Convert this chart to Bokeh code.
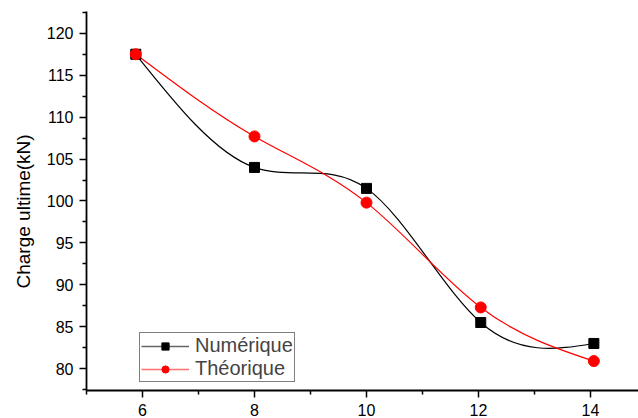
import numpy as np
from bokeh.plotting import figure
from bokeh.models import (Range1d, FixedTicker, Legend, LegendItem, Title,
                          ColumnDataSource)
from bokeh.embed import file_html
from bokeh.resources import INLINE

# ---- data ----
x_vals = [5.88, 8.0, 10.0, 12.04, 14.06]
numerique = [117.5, 104.0, 101.5, 85.5, 83.0]
theorique = [117.5, 107.7, 99.8, 87.3, 80.9]
x_ticks = [6, 8, 10, 12, 14]
x_minor = [5, 7, 9, 11, 13]
y_ticks = [80, 85, 90, 95, 100, 105, 110, 115, 120]
y_minor = [77.5, 82.5, 87.5, 92.5, 97.5, 102.5, 107.5, 112.5, 117.5, 122.5]
y_title = "Charge ultime(kN)"
series_names = ["Numérique", "Théorique"]


def spline_bezier(xs, ys):
    """Natural cubic spline through the points, as exact cubic Bezier pieces."""
    x = np.asarray(xs, float)
    y = np.asarray(ys, float)
    n = len(x)
    h = np.diff(x)
    A = np.zeros((n, n))
    b = np.zeros(n)
    A[0, 0] = 1.0
    A[-1, -1] = 1.0
    for i in range(1, n - 1):
        A[i, i - 1] = h[i - 1]
        A[i, i] = 2 * (h[i - 1] + h[i])
        A[i, i + 1] = h[i]
        b[i] = 6 * ((y[i + 1] - y[i]) / h[i] - (y[i] - y[i - 1]) / h[i - 1])
    M = np.linalg.solve(A, b)
    d = np.diff(y) / h
    m0 = d - h * (2 * M[:-1] + M[1:]) / 6
    m1 = d + h * (M[:-1] + 2 * M[1:]) / 6
    return dict(
        x0=x[:-1], y0=y[:-1], x1=x[1:], y1=y[1:],
        cx0=x[:-1] + h / 3, cy0=y[:-1] + m0 * h / 3,
        cx1=x[1:] - h / 3, cy1=y[1:] - m1 * h / 3,
    )


p = figure(width=638, height=418, output_backend="svg", toolbar_location=None,
           x_range=Range1d(5.0, 14.857), y_range=Range1d(77.39, 122.6),
           min_border_left=86, min_border_right=0, min_border_top=11,
           min_border_bottom=26)
p.outline_line_color = None
p.xgrid.visible = False
p.ygrid.visible = False
p.background_fill_color = "white"
p.border_fill_color = "white"

for ax in (p.xaxis[0], p.yaxis[0]):
    ax.axis_line_width = 1.8
    ax.axis_line_color = "black"
    ax.major_tick_line_color = "black"
    ax.minor_tick_line_color = "black"
    ax.major_tick_line_width = 1.5
    ax.minor_tick_line_width = 1.5
    ax.major_tick_in = 0
    ax.major_tick_out = 7
    ax.minor_tick_in = 0
    ax.minor_tick_out = 4
    ax.major_label_text_font = "Liberation Sans"
    ax.major_label_text_font_size = "16px"
    ax.major_label_text_color = "black"
    ax.major_label_standoff = 6

p.xaxis[0].ticker = FixedTicker(ticks=x_ticks, minor_ticks=x_minor)
p.yaxis[0].ticker = FixedTicker(ticks=y_ticks, minor_ticks=y_minor)

# y axis title, in the left side panel (starts ~102 px above the frame bottom)
p.add_layout(Title(text=y_title, align="left", offset=102, standoff=19,
                   text_font="Liberation Sans", text_font_size="19px",
                   text_font_style="normal", text_color="black"), "left")

bn = spline_bezier(x_vals, numerique)
bt = spline_bezier(x_vals, theorique)

p.bezier(source=bn, x0="x0", y0="y0", x1="x1", y1="y1",
         cx0="cx0", cy0="cy0", cx1="cx1", cy1="cy1",
         line_color="black", line_width=1.2)
p.bezier(source=bt, x0="x0", y0="y0", x1="x1", y1="y1",
         cx0="cx0", cy0="cy0", cx1="cx1", cy1="cy1",
         line_color="#ff0000", line_width=1.2)

src = ColumnDataSource(dict(x=x_vals, num=numerique, theo=theorique))
sn = p.scatter("x", "num", source=src, marker="square", size=10,
               fill_color="black", line_color="black")
st = p.scatter("x", "theo", source=src, marker="circle", size=11,
               fill_color="#ff0000", line_color="#ff0000")

# legend-only swatches (not shown in the plot; the reference draws them lighter)
gn = p.line("x", "num", source=src, visible=False, line_color="#666666",
            line_width=1.5)
gt = p.line("x", "theo", source=src, visible=False, line_color="#ff7070",
            line_width=1.5)
mn = p.scatter("x", "num", source=src, visible=False, marker="square", size=9,
               fill_color="black", line_color="black")
mt = p.scatter("x", "theo", source=src, visible=False, marker="circle",
               size=11, fill_color="#ff0000", line_color="#ff0000")

legend = Legend(items=[LegendItem(label=series_names[0], renderers=[gn, mn]),
                       LegendItem(label=series_names[1], renderers=[gt, mt])],
                location=(53, 8), margin=0, padding=1, spacing=0,
                glyph_width=48, glyph_height=18, label_height=18,
                label_standoff=6, label_text_font="Liberation Sans",
                label_text_font_size="20px", border_line_color="black",
                border_line_width=1.2, background_fill_alpha=1.0,
                inactive_fill_alpha=0.0)
p.add_layout(legend, "center")

open("out.html", "w").write(file_html(p, INLINE))
